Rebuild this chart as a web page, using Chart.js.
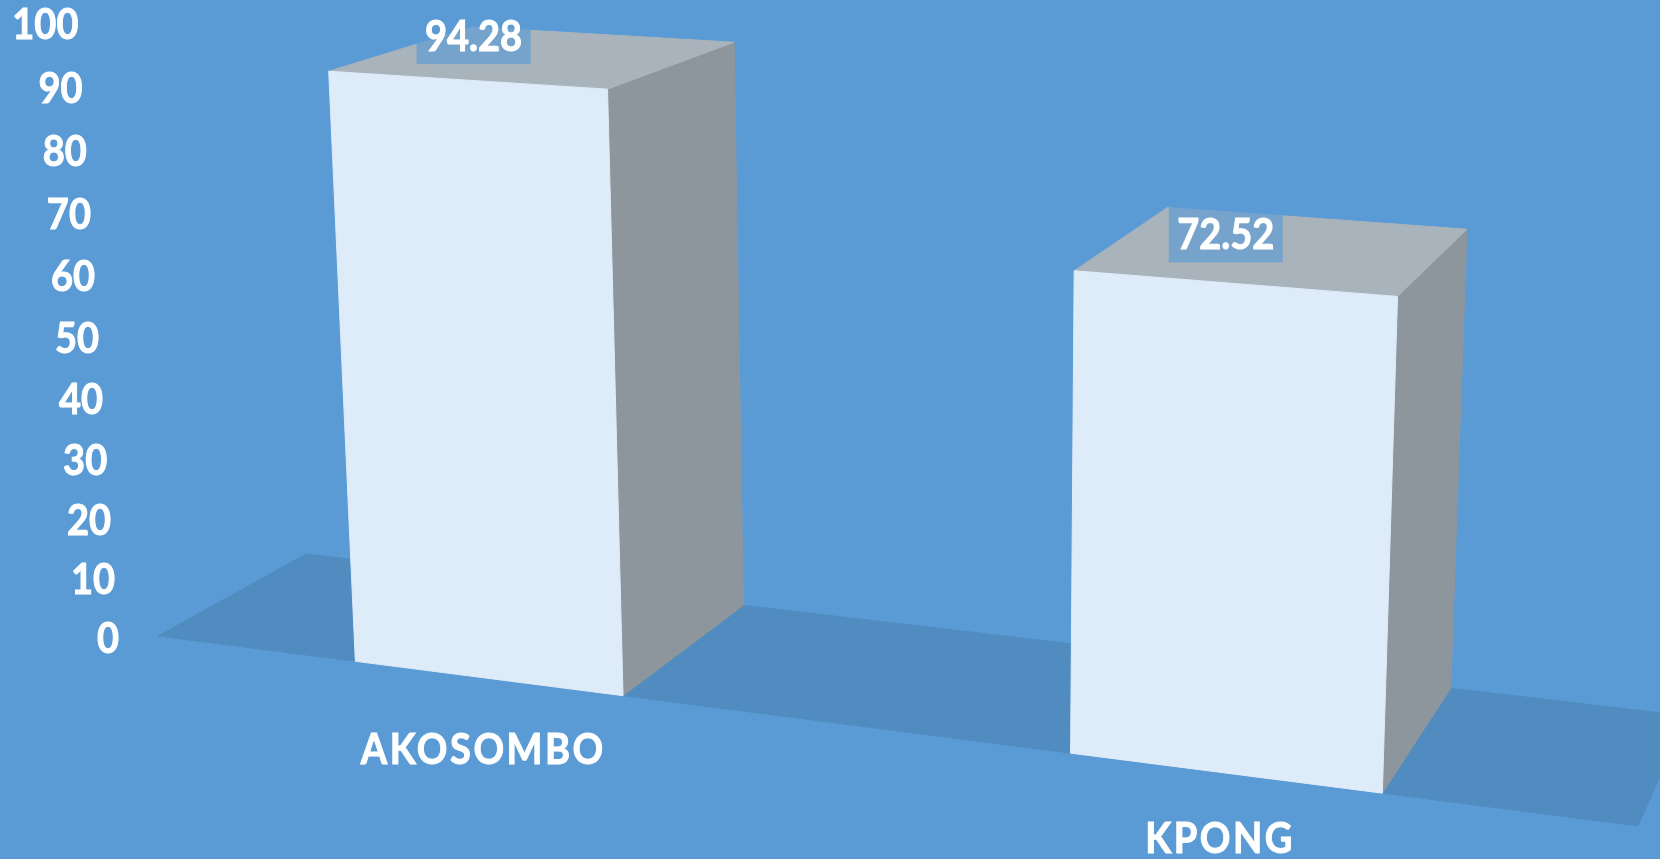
<!DOCTYPE html>
<html>
<head>
<meta charset="utf-8">
<title>Akosombo / Kpong</title>
<script src="https://cdn.jsdelivr.net/npm/chart.js@4/dist/chart.umd.min.js"></script>
<style>
  html, body { margin: 0; padding: 0; background: #5b9bd5; overflow: hidden; }
  canvas { display: block; }
</style>
</head>
<body>
<canvas id="stationChart" width="1660" height="859"></canvas>
<script>
const categories = ["AKOSOMBO", "KPONG"];
const seriesValues = [94.28, 72.52];
const yTicks = [0, 10, 20, 30, 40, 50, 60, 70, 80, 90, 100];

const FONT = 'bold 38px Lato, "Open Sans", sans-serif';

// perspective of the 3D scene: u across the floor, d into the depth, h up, all 0..1
const CAM = {
  xu: 1248.1, xd: 171.47, xh: -41.8, x0: 158,
  yu: 73.06, yd: -39.5, yh: -615.5, y0: 636,
  wu: -0.14157, wd: 0.07671, wh: -0.0431,
};

function project(u, d, h) {
  const w = CAM.wu * u + CAM.wd * d + CAM.wh * h + 1;
  return {
    x: (CAM.xu * u + CAM.xd * d + CAM.xh * h + CAM.x0) / w,
    y: (CAM.yu * u + CAM.yd * d + CAM.yh * h + CAM.y0) / w,
  };
}

function face(ctx, color, corners) {
  ctx.beginPath();
  corners.forEach(([u, d, h], i) => {
    const p = project(u, d, h);
    if (i === 0) ctx.moveTo(p.x, p.y);
    else ctx.lineTo(p.x, p.y);
  });
  ctx.closePath();
  ctx.fillStyle = color;
  ctx.strokeStyle = color;
  ctx.lineWidth = 1;
  ctx.fill();
  ctx.stroke();
}

// the original text is taller and heavier than Lato, so stretch and thicken it a bit
function whiteText(ctx, text, x, y, align, spacing) {
  ctx.save();
  ctx.translate(x, y);
  ctx.scale(1, 1.12);
  ctx.font = FONT;
  ctx.fillStyle = "#ffffff";
  ctx.strokeStyle = "#ffffff";
  ctx.lineWidth = 0.9;
  ctx.textAlign = align;
  ctx.textBaseline = "middle";
  ctx.letterSpacing = spacing || "0px";
  ctx.fillText(text, 0, 2);
  ctx.strokeText(text, 0, 2);
  ctx.restore();
}

const scene3d = {
  id: "scene3d",
  afterDatasetsDraw(chart) {
    const { ctx, chartArea: area, scales } = chart;
    const toU = (px) => (px - area.left) / area.width;
    const toH = (py) => (area.bottom - py) / area.height;

    ctx.save();
    face(ctx, "#518cc0", [[0, 0, 0], [1, 0, 0], [1, 1, 0], [0, 1, 0]]);

    const bars = chart.getDatasetMeta(0).data;
    bars.forEach((bar) => {
      const u1 = toU(bar.x - bar.width / 2);
      const u2 = toU(bar.x + bar.width / 2);
      const h = toH(bar.y);
      face(ctx, "#8e969d", [[u2, 0, 0], [u2, 1, 0], [u2, 1, h], [u2, 0, h]]);
      face(ctx, "#a9b3bb", [[u1, 0, h], [u2, 0, h], [u2, 1, h], [u1, 1, h]]);
      face(ctx, "#deebf8", [[u1, 0, 0], [u2, 0, 0], [u2, 0, h], [u1, 0, h]]);
    });

    // y axis labels follow the left floor corner up
    scales.y.ticks.forEach((tick) => {
      const h = toH(scales.y.getPixelForValue(tick.value));
      const p = project(0, 0, h);
      whiteText(ctx, tick.label, p.x - 39 - 4 * h, p.y + 1.5, "right");
    });

    bars.forEach((bar, i) => {
      const u = toU(bar.x);
      const base = project(u, 0, 0);
      whiteText(ctx, categories[i], base.x - 4, base.y + 73 - 12 * u, "center", "2.5px");

      const top = project(u, 0, toH(bar.y));
      const cx = top.x + 15 - 30 * u;
      const cy = top.y - 42.5 - 10 * u;
      ctx.fillStyle = "rgba(91,155,213,0.65)";
      ctx.fillRect(cx - 57, cy - 29, 114, 58);
      whiteText(ctx, seriesValues[i].toFixed(2), cx, cy, "center");
    });
    ctx.restore();
  },
};

new Chart(document.getElementById("stationChart"), {
  type: "bar",
  data: {
    labels: categories,
    datasets: [{
      data: seriesValues,
      backgroundColor: "rgba(0,0,0,0)",
      categoryPercentage: 1,
      barPercentage: 0.392,
    }],
  },
  options: {
    responsive: false,
    animation: false,
    layout: { padding: 0 },
    plugins: { legend: { display: false }, tooltip: { enabled: false } },
    scales: {
      x: { ticks: { display: false }, grid: { display: false }, border: { display: false } },
      y: {
        min: 0,
        max: 100,
        afterBuildTicks: (scale) => { scale.ticks = yTicks.map((value) => ({ value })); },
        ticks: { display: false },
        grid: { display: false },
        border: { display: false },
      },
    },
  },
  plugins: [scene3d],
});
</script>
</body>
</html>
